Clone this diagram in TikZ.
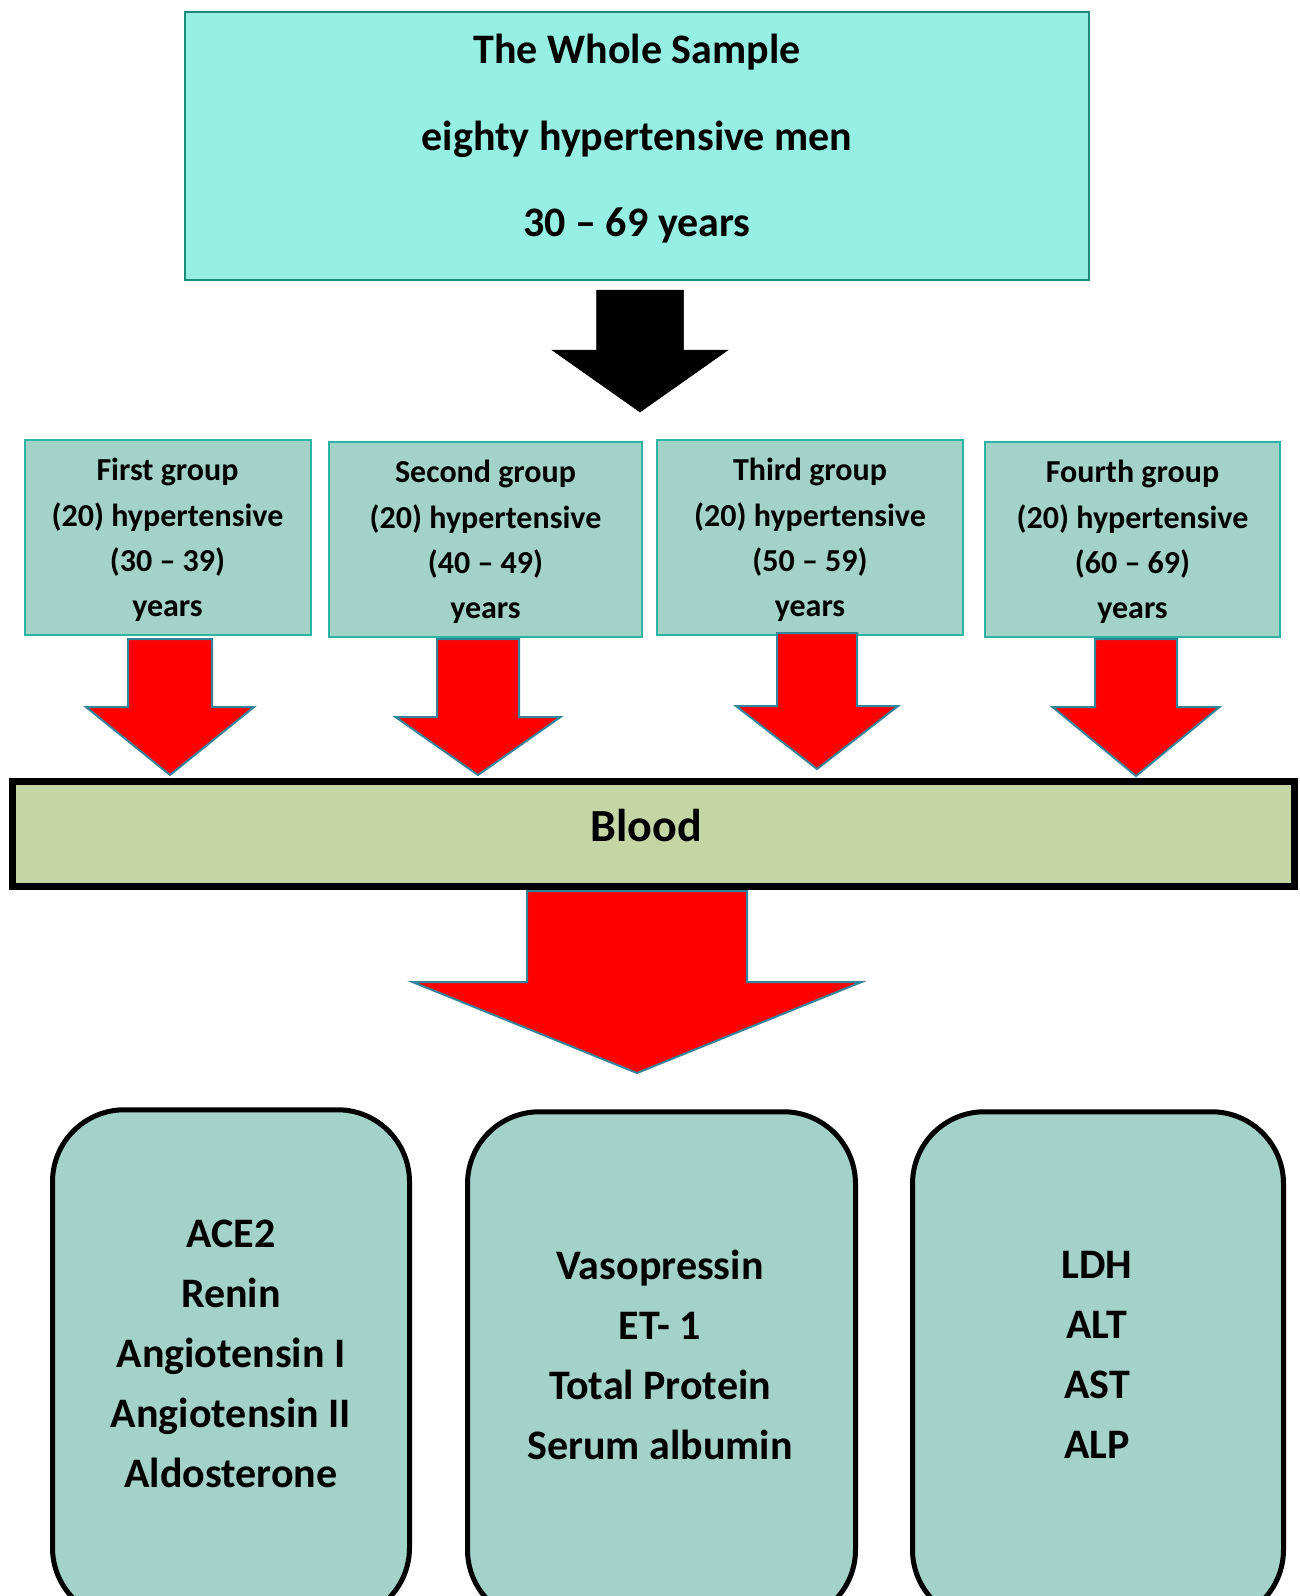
\documentclass[tikz,border=0pt]{standalone}
\usepackage{fontspec}
\setmainfont{Carlito}
\definecolor{topfill}{RGB}{149,240,227}
\definecolor{topborder}{RGB}{30,140,120}
\definecolor{gfill}{RGB}{162,210,200}
\definecolor{gborder}{RGB}{44,180,162}
\definecolor{bloodfill}{RGB}{195,214,164}
\definecolor{arrowred}{RGB}{255,0,0}
\definecolor{arrowedge}{RGB}{49,133,155}
\newcommand\blockarrow[7][]{%
  \draw[#1] ({#2-#3},#4) -- ({#2+#3},#4) -- ({#2+#3},#5) -- ({#2+#6},#5)
    -- (#2,#7) -- ({#2-#6},#5) -- ({#2-#3},#5) -- cycle;}
\begin{document}
\begin{tikzpicture}[x=1pt,y=-1pt,
  topbox/.style={draw=topborder,fill=topfill,line width=2.5pt,inner sep=0pt,outer sep=0pt},
  toptext/.style={align=center,font=\fontsize{42}{86.5}\selectfont\bfseries,inner sep=0pt},
  gbox/.style={draw=gborder,fill=gfill,line width=2pt,inner sep=0pt,outer sep=0pt,
    minimum height=195pt,align=center,font=\fontsize{32}{45.3}\selectfont\bfseries},
  gtext/.style={align=center,font=\fontsize{32}{45.3}\selectfont\bfseries,inner sep=0pt},
  bloodbox/.style={draw=black,fill=bloodfill,line width=7pt,inner sep=0pt,outer sep=0pt},
  bbox/.style={draw=black,fill=gfill,line width=5pt,rounded corners=72pt,inner sep=0pt,outer sep=0pt,minimum height=510pt},
  btext/.style={align=center,font=\fontsize{42}{60}\selectfont\bfseries,inner sep=0pt},
  redarrow/.style={fill=arrowred,draw=arrowedge,line width=2pt,line join=miter},
  blackarrow/.style={fill=black,draw=black,line width=0.5pt}
]
\clip (0,0) rectangle (1299,1596);
\fill[white] (0,0) rectangle (1299,1596);

% top box
\node[topbox,minimum width=904pt,minimum height=268pt] (top) at (637,146) {};
\node[toptext] (toplabel) at (637,139) {The Whole Sample\\eighty hypertensive men\\30 – 69 years};

% black arrow
\blockarrow[blackarrow]{640}{43.5}{290}{350}{88}{412}

% group boxes
\node[gbox,minimum width=286pt] (g1) at (167.5,537.5) {};
\node[gbox,minimum width=313pt] (g2) at (485.5,539.5) {};
\node[gbox,minimum width=306pt] (g3) at (810,537.5) {};
\node[gbox,minimum width=295pt] (g4) at (1132.5,539.5) {};
\node[gtext] (g1label) at (167.5,540) {First group\\(20) hypertensive\\(30 – 39)\\years};
\node[gtext] (g2label) at (485.5,542) {Second group\\(20) hypertensive\\(40 – 49)\\years};
\node[gtext] (g3label) at (810,540) {Third group\\(20) hypertensive\\(50 – 59)\\years};
\node[gtext] (g4label) at (1132.5,542) {Fourth group\\(20) hypertensive\\(60 – 69)\\years};

% blood box
\node[bloodbox,minimum width=1282pt,minimum height=105pt] (blood) at (653.5,834) {};
\node[font=\fontsize{46}{50}\selectfont\bfseries,inner sep=0pt] (bloodlabel) at (646,826) {Blood};

% red arrows from groups to blood
\blockarrow[redarrow]{170}{42}{639}{707}{84}{775}
\blockarrow[redarrow]{478}{41}{639}{717}{82.5}{775}
\blockarrow[redarrow]{817}{40}{633}{706}{81}{769}
\blockarrow[redarrow]{1136}{41}{639}{707}{83.5}{776}

% big red arrow
\blockarrow[redarrow]{637}{110}{891}{982}{224.5}{1073}

% bottom boxes
\node[bbox,minimum width=357pt] (b1) at (231,1364.75) {};
\node[bbox,minimum width=388pt] (b2) at (661.5,1366.75) {};
\node[bbox,minimum width=371pt] (b3) at (1098,1366.75) {};
\node[btext] (b1label) at (231,1354) {ACE2\\Renin\\Angiotensin I\\Angiotensin II\\Aldosterone};
\node[btext] (b2label) at (660,1355) {Vasopressin\\ET- 1\\Total Protein\\Serum albumin};
\node[btext] (b3label) at (1097,1355) {LDH\\ALT\\AST\\ALP};
\end{tikzpicture}
\end{document}
